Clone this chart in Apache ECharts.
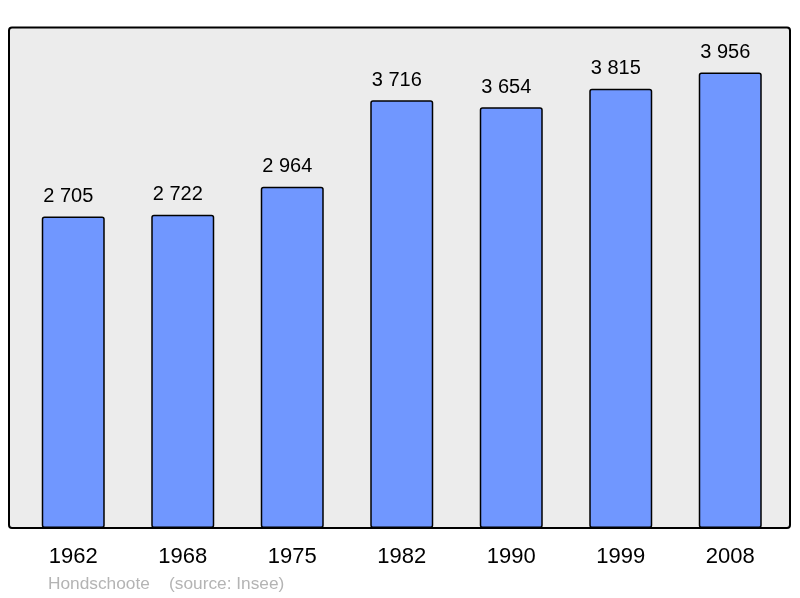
<!DOCTYPE html>
<html>
<head>
<meta charset="utf-8">
<script src="https://cdn.jsdelivr.net/npm/echarts@6/dist/echarts.min.js"></script>
<style>
  html, body { margin: 0; padding: 0; background: #fff; }
  #cv { width: 800px; height: 598px; }
</style>
</head>
<body>
<div id="cv"></div>
<script>
var years = ['1962', '1968', '1975', '1982', '1990', '1999', '2008'];
var population = [2705, 2722, 2964, 3716, 3654, 3815, 3956];
var caption = 'Hondschoote    (source: Insee)';

var chart = echarts.init(document.getElementById('cv'));

function spaced(v) {
  return String(v).replace(/\B(?=(\d{3})+(?!\d))/g, ' ');
}

var option = {
  animation: false,
  grid: { left: 18.5, right: 15, top: 27, bottom: 70 },
  graphic: [
    {
      type: 'rect',
      z: 0,
      shape: { x: 9, y: 27.5, width: 781, height: 500.5, r: 3 },
      style: { fill: '#ececec', stroke: '#000', lineWidth: 2 }
    },
    {
      type: 'text',
      left: 48, top: 576,
      style: { text: caption, fill: '#b4b4b4', font: '17.3px "Liberation Sans", Arial, sans-serif' }
    }
  ],
  xAxis: {
    type: 'category',
    data: years,
    axisLine: { show: false },
    axisTick: { show: false },
    axisLabel: { color: '#000', fontSize: 22, margin: 18, fontFamily: 'Liberation Sans' }
  },
  yAxis: {
    type: 'value',
    min: 0,
    max: 4352,
    show: false,
    splitLine: { show: false }
  },
  series: [{
    type: 'bar',
    data: population,
    barWidth: 63,
    itemStyle: { color: '#7097ff', borderColor: '#000', borderWidth: 1.5, borderRadius: 2 },
    label: {
      show: true,
      position: 'top',
      distance: 10,
      offset: [-5, 0],
      color: '#000',
      fontSize: 20,
      fontFamily: 'Liberation Sans',
      formatter: function (p) { return spaced(p.value); }
    }
  }]
};
chart.setOption(option);
</script>
</body>
</html>
